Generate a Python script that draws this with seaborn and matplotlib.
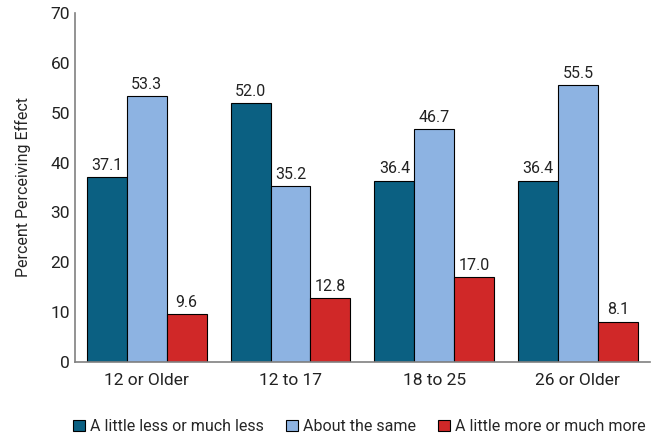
import matplotlib
matplotlib.use("Agg")
import matplotlib.pyplot as plt
import seaborn as sns
import pandas as pd
from matplotlib import font_manager

# age groups and responses
groups = ["12 or Older", "12 to 17", "18 to 25", "26 or Older"]
responses = ["A little less or much less", "About the same", "A little more or much more"]
less = [37.1, 52.0, 36.4, 36.4]
same = [53.3, 35.2, 46.7, 55.5]
more = [9.6, 12.8, 17.0, 8.1]
colors = ["#0B6082", "#8DB3E2", "#D02828"]

df = pd.DataFrame({
    "group": groups * 3,
    "response": [responses[0]] * 4 + [responses[1]] * 4 + [responses[2]] * 4,
    "value": less + same + more,
})

sns.set_style("white")
names = {f.name for f in font_manager.fontManager.ttflist}
fam = "Liberation Sans Narrow" if "Liberation Sans Narrow" in names else "Roboto"
plt.rcParams["font.family"] = [fam, "DejaVu Sans"]

fig = plt.figure(figsize=(6.55, 4.34), dpi=100)
ax = fig.add_axes([0.1145, 0.166, 0.8775, 0.804])

sns.barplot(data=df, x="group", y="value", hue="response", order=groups,
            hue_order=responses, palette=colors, saturation=1, width=0.833,
            edgecolor="black", linewidth=0.8, ax=ax, legend=True)

for c in ax.containers:
    ax.bar_label(c, fmt="%.1f", padding=3, fontsize=11.5, color="#222222")

ax.set_ylim(0, 70)
ax.set_xlim(-0.5, 3.5)
ax.set_yticks(range(0, 71, 10))
ax.set_xlabel("")
ax.set_ylabel("Percent Perceiving Effect", fontsize=11.5, labelpad=14)
ax.tick_params(axis="both", length=0, labelsize=12.5, colors="#222222")
ax.tick_params(axis="x", pad=8)
for s in ["top", "right"]:
    ax.spines[s].set_visible(False)
for s in ["left", "bottom"]:
    ax.spines[s].set_color("#808080")
    ax.spines[s].set_linewidth(1.2)

leg = ax.legend(loc="center", bbox_to_anchor=(0.495, -0.185), ncol=3, frameon=False,
                fontsize=11.5, handlelength=0.75, handleheight=0.75,
                handletextpad=0.3, columnspacing=1.4)
for h in leg.legend_handles:
    h.set_edgecolor("black")
    h.set_linewidth(0.8)

fig.savefig("out.png", dpi=100)
